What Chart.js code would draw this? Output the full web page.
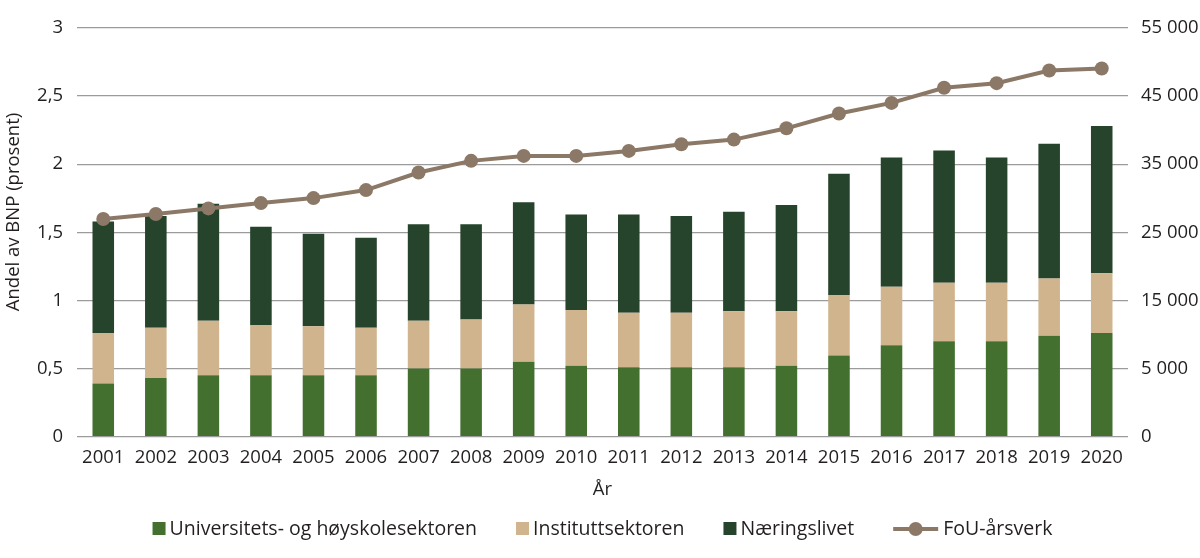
<!DOCTYPE html>
<html lang="no">
<head>
<meta charset="utf-8">
<title>FoU som andel av BNP og FoU-årsverk</title>
<script src="https://cdn.jsdelivr.net/npm/chart.js@4"></script>
<style>
  html, body { margin: 0; padding: 0; background: #fff; }
  #wrap { width: 1200px; height: 558px; position: relative; }
</style>
</head>
<body>
<div id="wrap"><canvas id="fouChart"></canvas></div>
<script>
const years = ['2001','2002','2003','2004','2005','2006','2007','2008','2009','2010',
               '2011','2012','2013','2014','2015','2016','2017','2018','2019','2020'];

// andel av BNP (prosent), per sektor
const universitet = [0.39,0.43,0.45,0.45,0.45,0.45,0.50,0.50,0.55,0.52,
                     0.51,0.51,0.51,0.52,0.595,0.67,0.70,0.70,0.74,0.76];
const institutt   = [0.37,0.37,0.40,0.37,0.36,0.35,0.35,0.36,0.42,0.41,
                     0.40,0.40,0.41,0.40,0.445,0.43,0.43,0.43,0.42,0.44];
const naering     = [0.82,0.82,0.86,0.72,0.68,0.66,0.71,0.70,0.75,0.70,
                     0.72,0.71,0.73,0.78,0.89,0.95,0.97,0.92,0.99,1.08];

// FoU-årsverk (høyre akse)
const aarsverk = [26950,27680,28510,29290,30020,31200,33780,35490,36220,36220,
                  36950,37930,38610,40270,42440,44000,46220,46900,48760,49050];

const leftTicks  = [0, 0.5, 1, 1.5, 2, 2.5, 3];
const rightTicks = [-5000, 5000, 15000, 25000, 35000, 45000, 55000];

const textColor = '#231f20';
const gridColor = '#9b9b9b';
const font = '"Open Sans", sans-serif';

// legend + y-axis title drawn on the canvas
const extras = {
  id: 'extras',
  afterDraw(chart) {
    const ctx = chart.ctx;
    const area = chart.chartArea;
    ctx.save();
    ctx.fillStyle = textColor;
    ctx.textBaseline = 'middle';

    // y title
    ctx.font = '18.5px ' + font;
    ctx.save();
    ctx.translate(14, 212);
    ctx.rotate(-Math.PI / 2);
    ctx.textAlign = 'center';
    ctx.fillText('Andel av BNP (prosent)', 0, 0);
    ctx.restore();

    // legend
    ctx.font = '19.5px ' + font;
    const items = chart.data.datasets.map(ds => ({
      label: ds.label, color: ds.backgroundColor, line: ds.type === 'line'
    }));
    const widths = items.map(it => (it.line ? 50 : 17) + ctx.measureText(it.label).width);
    const gap = 39;
    const total = widths.reduce((s, w) => s + w, 0) + gap * (items.length - 1);
    let x = (area.left + area.right) / 2 - total / 2;
    const y = 529;
    ctx.textAlign = 'left';
    items.forEach((it, i) => {
      if (it.line) {
        ctx.strokeStyle = it.color;
        ctx.lineWidth = 4;
        ctx.beginPath();
        ctx.moveTo(x, y);
        ctx.lineTo(x + 45, y);
        ctx.stroke();
        ctx.fillStyle = it.color;
        ctx.beginPath();
        ctx.arc(x + 22.5, y, 7, 0, Math.PI * 2);
        ctx.fill();
        ctx.fillStyle = textColor;
        ctx.fillText(it.label, x + 50, y);
      } else {
        ctx.fillStyle = it.color;
        ctx.fillRect(x, y - 7, 13, 13);
        ctx.fillStyle = textColor;
        ctx.fillText(it.label, x + 17, y);
      }
      x += widths[i] + gap;
    });
    ctx.restore();
  }
};

const fmtThousands = v => {
  const n = Math.max(0, v);
  return n.toString().replace(/\B(?=(\d{3})+(?!\d))/g, ' ');
};

new Chart(document.getElementById('fouChart'), {
  data: {
    labels: years,
    datasets: [
      { type: 'bar', label: 'Universitets- og høyskolesektoren', data: universitet,
        backgroundColor: '#43702f', yAxisID: 'y', stack: 's', order: 1 },
      { type: 'bar', label: 'Instituttsektoren', data: institutt,
        backgroundColor: '#d0b48e', yAxisID: 'y', stack: 's', order: 1 },
      { type: 'bar', label: 'Næringslivet', data: naering,
        backgroundColor: '#26432b', yAxisID: 'y', stack: 's', order: 1 },
      { type: 'line', label: 'FoU-årsverk', data: aarsverk, yAxisID: 'y1', order: 0,
        borderColor: '#8c7866', backgroundColor: '#8c7866', borderWidth: 4,
        pointRadius: 7, pointHoverRadius: 7, pointBackgroundColor: '#8c7866',
        pointBorderWidth: 0, tension: 0 }
    ]
  },
  options: {
    responsive: true,
    maintainAspectRatio: false,
    animation: false,
    layout: { padding: { top: 28, bottom: 53, left: 0, right: 0 } },
    datasets: { bar: { barPercentage: 0.41, categoryPercentage: 1 } },
    plugins: { legend: { display: false }, tooltip: { enabled: false } },
    scales: {
      x: {
        stacked: true,
        grid: { display: false, drawTicks: false },
        border: { display: false },
        ticks: { color: textColor, font: { family: font, size: 18.5 }, padding: 10, maxRotation: 0 },
        title: { display: true, text: 'År', color: textColor,
                 font: { family: font, size: 18.5 }, padding: { top: 0, bottom: 4 } }
      },
      y: {
        position: 'left',
        stacked: true,
        min: 0, max: 3,
        afterBuildTicks: s => { s.ticks = leftTicks.map(v => ({ value: v })); },
        afterFit: s => { s.width = 77; },
        grid: { color: gridColor, lineWidth: 1.3, drawTicks: false },
        border: { display: false },
        ticks: { color: textColor, font: { family: font, size: 18.5 }, padding: 14,
                 callback: v => String(v).replace('.', ',') }
      },
      y1: {
        position: 'right',
        min: -5000, max: 55000,
        afterBuildTicks: s => { s.ticks = rightTicks.map(v => ({ value: v })); },
        afterFit: s => { s.width = 72; },
        grid: { display: false, drawTicks: false },
        border: { display: false },
        ticks: { color: textColor, font: { family: font, size: 18.5 }, padding: 13,
                 callback: v => fmtThousands(v) }
      }
    }
  },
  plugins: [extras]
});
</script>
</body>
</html>
